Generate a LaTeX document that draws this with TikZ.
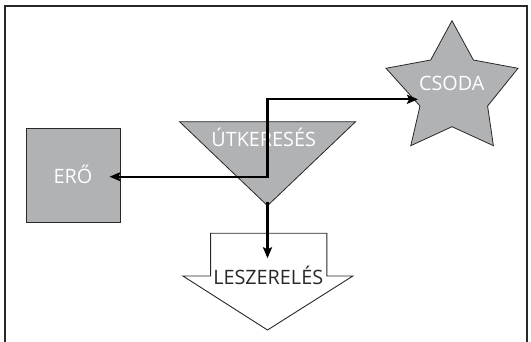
\documentclass[tikz,border=0pt]{standalone}
\usepackage{fontspec}
\setmainfont{Open Sans}
\usetikzlibrary{arrows.meta}
\definecolor{shapegray}{RGB}{177,178,180}
\definecolor{edgedark}{RGB}{40,40,40}
\tikzset{
  lbl/.style={anchor=base, inner sep=0pt, font=\fontsize{19.8}{24}\selectfont},
  whitelbl/.style={lbl, text=white},
  darklbl/.style={lbl, text=edgedark},
  grayshape/.style={fill=shapegray, draw=edgedark, line width=0.8pt},
  conn/.style={draw=black, line width=2.2pt, line join=miter},
  tip/.style={-{Stealth[length=11pt,width=9pt,inset=2pt]}},
  frameline/.style={draw=edgedark, line width=1.1pt}
}
\begin{document}
\begin{tikzpicture}[x=1pt,y=-1pt]
\useasboundingbox (0,0) rectangle (531,342);
% frame
\draw[frameline] (5,342) -- (5,6) -- (527,6) -- (527,342);
% square ERO
\node[grayshape, minimum width=93.8pt, minimum height=94pt, inner sep=0pt] (erobox) at (73.3,175.3) {};
\node[whitelbl] (ero) at (72.9,183.3) {ERŐ};
% triangle
\draw[grayshape] (179.5,121.7) -- (355.6,121.7) -- (267.5,205.7) -- cycle;
\node[whitelbl] (ut) at (263.7,146.7) {ÚTKERESÉS};
% star
\draw[grayshape] (452,20.7) -- (473.4,60) -- (518,68.3) -- (487.6,106) -- (493.4,145.7)
  -- (452,126.7) -- (410.8,145.7) -- (420,106) -- (386,68.3) -- (430.7,60) -- cycle;
\node[whitelbl] (csoda) at (451.7,90.7) {CSODA};
% block arrow
\draw[fill=white, draw=edgedark, line width=0.9pt] (210.6,233.3) -- (326.8,233.3) -- (326.8,276) -- (352.9,276)
  -- (267.5,330) -- (182.9,276) -- (210.6,276) -- cycle;
\node[darklbl] (lesz) at (268.2,284.3) {LESZERELÉS};
% connector coordinates
\coordinate (eroTip) at (109.5,176.7);
\coordinate (bendA) at (267.5,176.7);
\coordinate (bendB) at (267.5,99.3);
\coordinate (csodaTip) at (418,99.3);
\coordinate (utBottom) at (267.5,201.7);
\coordinate (leszTip) at (267.5,258.3);
% connectors
\draw[conn, {Stealth[length=11pt,width=9pt,inset=2pt]}-{Stealth[length=11pt,width=9pt,inset=2pt]}]
  (eroTip) -- (bendA) -- (bendB) -- (csodaTip);
\draw[conn, tip] (utBottom) -- (leszTip);
\end{tikzpicture}
\end{document}
